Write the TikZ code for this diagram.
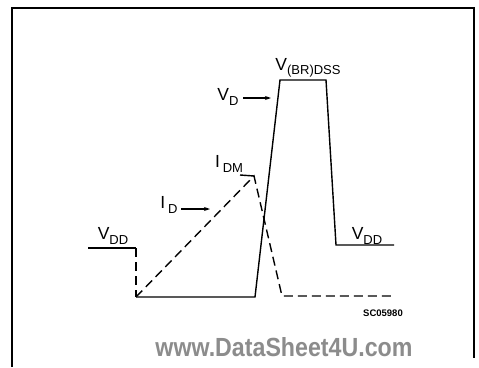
\documentclass[tikz,border=0pt]{standalone}
\usepackage{fontspec}
\setmainfont{Liberation Sans}
\usetikzlibrary{arrows.meta}
\newcommand\lsub[1]{\raisebox{-0.45ex}{\fontsize{13}{13}\selectfont #1}}
\begin{document}
\begin{tikzpicture}[x=1pt,y=-1pt,
  wave/.style={line width=1.4pt},
  dwave/.style={line width=1.4pt,dash pattern=on 9pt off 5pt},
  lbl/.style={inner sep=0pt,font=\fontsize{17.5}{17.5}\selectfont},
  pointer/.style={line width=1.2pt,-{Stealth[length=6pt,width=4pt]}},
  frame/.style={line width=1.2pt}]
\useasboundingbox (0,0) rectangle (479,367);
\fill[white] (0,0) rectangle (479,367);
% frame
\draw[frame] (12,367) -- (12,8) -- (474,8) -- (474,358);
% coordinates
\coordinate (a0) at (88,248);
\coordinate (a1) at (136,248);
\coordinate (a2) at (136,297);
\coordinate (a3) at (255,297);
\coordinate (a4) at (280,80);
\coordinate (a5) at (326,80);
\coordinate (a6) at (336,245);
\coordinate (a7) at (394,245);
\coordinate (p0) at (240,175);
\coordinate (pk) at (254,176);
\coordinate (d1) at (282,296);
\coordinate (d2) at (394,296);
% voltage waveform
\draw[wave] (a0) -- (a1);
\draw[dwave] (a1) -- (a2);
\draw[wave] (a2) -- (a3) -- (a4) -- (a5) -- (a6) -- (a7);
% current waveform
\draw[wave] (p0) -- (pk);
\draw[dwave] (a2) -- (pk) -- (d1) -- (d2);
% labels
\node[lbl] (vddl) at (113,236) {V\lsub{DD}};
\node[lbl] (vddr) at (367,236) {V\lsub{DD}};
\node[lbl] (vbr) at (308,68) {V\lsub{(BR)DSS}};
\node[lbl] (vd) at (228,97) {V\lsub{D}};
\node[lbl] (idm) at (229,164) {I\,\lsub{DM}};
\node[lbl] (id) at (169,205) {I\,\lsub{D}};
\coordinate (vds) at (243,98);
\coordinate (vdt) at (271,98);
\coordinate (ids) at (181,209);
\coordinate (idt) at (210,209);
\draw[pointer] (vds) -- (vdt);
\draw[pointer] (ids) -- (idt);
\node[inner sep=0pt,font=\fontsize{9.5}{9.5}\selectfont\bfseries] (sc) at (383,313) {SC05980};
\node[inner sep=0pt,text=black!45] (wm) at (284,347) {\resizebox{257pt}{19pt}{\bfseries www.DataSheet4U.com}};
\end{tikzpicture}
\end{document}
